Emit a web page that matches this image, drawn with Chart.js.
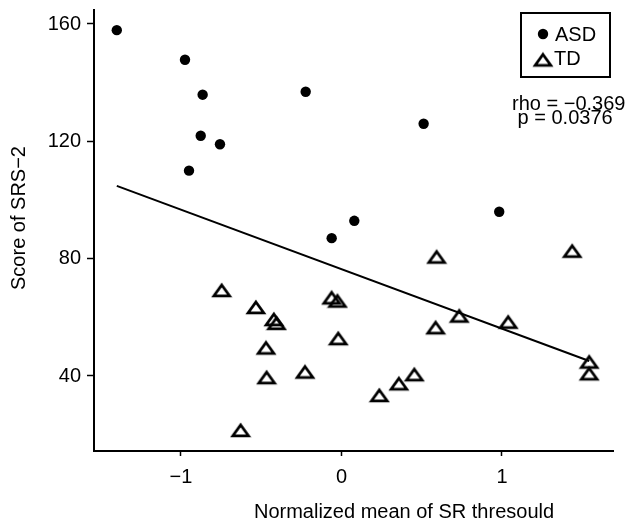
<!DOCTYPE html>
<html>
<head>
<meta charset="utf-8">
<script src="https://cdn.jsdelivr.net/npm/chart.js@4.4.1/dist/chart.umd.min.js"></script>
<style>
    html, body { margin: 0; padding: 0; background: #fff; }
    #wrap { width: 627px; height: 524px; }
</style>
</head>
<body>
<div id="wrap"><canvas id="myChart" width="627" height="524"></canvas></div>
<script>
// values
const asdX = [-1.40, -0.975, -0.865, -0.877, -0.757, -0.95, -0.223, 0.512, 0.983, 0.08, -0.061];
const asdY = [157.9, 147.8, 135.9, 121.9, 119.0, 110.0, 136.9, 126.0, 96.0, 92.9, 87.0];
const tdX = [-0.746, -0.533, -0.421, -0.405, -0.47, -0.466, -0.227, -0.628, 0.593, 1.438, -0.061,
             -0.025, -0.02, 0.587, 0.734, 1.039, 1.544, 1.544, 0.236, 0.358, 0.454];
const tdY = [69.3, 63.5, 59.4, 58.1, 49.7, 39.6, 41.5, 21.6, 80.7, 82.7, 66.8,
             65.7, 52.9, 56.6, 60.6, 58.5, 44.9, 40.9, 33.5, 37.5, 40.6];
const fitX = [-1.40, 1.544];
const fitY = [104.8, 45.1];
const xTicks = [-1, 0, 1];
const yTicks = [40, 80, 120, 160];
const groups = ['ASD', 'TD'];
const statLines = ['rho = \u22120.369', ' p = 0.0376'];

const FONT = "'Liberation Sans', Arial, Helvetica, sans-serif";

function toPoints(xs, ys) {
    return xs.map((x, i) => ({ x: x, y: ys[i] }));
}

// R style minus sign
function fmt(v) {
    return v < 0 ? '\u2212' + Math.abs(v) : String(v);
}

// open triangle like pch = 2
function makeTriangle() {
    const c = document.createElement('canvas');
    c.width = 22; c.height = 18;
    const g = c.getContext('2d');
    g.lineWidth = 2.8;
    g.strokeStyle = '#000';
    g.beginPath();
    g.moveTo(11, 4);
    g.lineTo(18.8, 14.8);
    g.lineTo(3.2, 14.8);
    g.closePath();
    g.stroke();
    return c;
}
const tri = makeTriangle();

const overlay = {
    id: 'overlay',
    afterDraw(chart) {
        const ctx = chart.ctx;
        ctx.save();
        ctx.fillStyle = '#000';
        ctx.strokeStyle = '#000';

        // legend box
        ctx.lineWidth = 2;
        ctx.strokeRect(521, 13, 89, 64);
        ctx.beginPath();
        ctx.arc(543, 34, 5.2, 0, Math.PI * 2);
        ctx.fill();
        ctx.drawImage(tri, 543 - tri.width / 2, 59.5 - tri.height / 2);

        ctx.font = '20px ' + FONT;
        ctx.textBaseline = 'alphabetic';
        ctx.textAlign = 'left';
        ctx.fillText(groups[0], 555, 41);
        ctx.fillText(groups[1], 554, 65);

        // stats
        ctx.fillText(statLines[0], 512, 110);
        ctx.fillText(statLines[1], 512, 124);

        // axis titles
        ctx.textAlign = 'center';
        ctx.fillText('Normalized mean of SR thresould', 404, 518);
        ctx.translate(25, 218);
        ctx.rotate(-Math.PI / 2);
        ctx.fillText('Score of SRS\u22122', 0, 0);
        ctx.restore();
    }
};

const ctx = document.getElementById('myChart').getContext('2d');
const chart = new Chart(ctx, {
    type: 'scatter',
    data: {
        datasets: [
            {
                label: 'fit',
                data: toPoints(fitX, fitY),
                showLine: true,
                borderColor: '#000',
                borderWidth: 2,
                pointRadius: 0
            },
            {
                label: groups[0],
                data: toPoints(asdX, asdY),
                pointStyle: 'circle',
                pointRadius: 5.2,
                backgroundColor: '#000',
                borderWidth: 0
            },
            {
                label: groups[1],
                data: toPoints(tdX, tdY),
                pointStyle: tri
            }
        ]
    },
    options: {
        responsive: false,
        animation: false,
        devicePixelRatio: 1,
        layout: { padding: { left: 0, top: 10, right: 14, bottom: 0 } },
        plugins: { legend: { display: false }, tooltip: { enabled: false } },
        scales: {
            x: {
                type: 'linear',
                min: -1.542,
                max: 1.692,
                afterBuildTicks: s => { s.ticks = xTicks.map(v => ({ value: v })); },
                afterFit: s => { s.height = 73; s.paddingLeft = 0; s.paddingRight = 0; },
                grid: { display: true, drawOnChartArea: false, drawTicks: true, tickLength: 5, tickWidth: 1.5, tickColor: '#000' },
                border: { display: true, color: '#000', width: 2 },
                ticks: { color: '#000', font: { family: FONT, size: 20 }, padding: 9, maxRotation: 0, callback: v => fmt(v) }
            },
            y: {
                type: 'linear',
                min: 14.43,
                max: 164.77,
                afterBuildTicks: s => { s.ticks = yTicks.map(v => ({ value: v })); },
                afterFit: s => { s.width = 94; s.paddingTop = 0; s.paddingBottom = 0; },
                grid: { display: true, drawOnChartArea: false, drawTicks: true, tickLength: 7, tickWidth: 1.5, tickColor: '#000' },
                border: { display: true, color: '#000', width: 2 },
                ticks: { color: '#000', font: { family: FONT, size: 20 }, padding: 6, callback: v => fmt(v) }
            }
        }
    },
    plugins: [overlay]
});
</script>
</body>
</html>
